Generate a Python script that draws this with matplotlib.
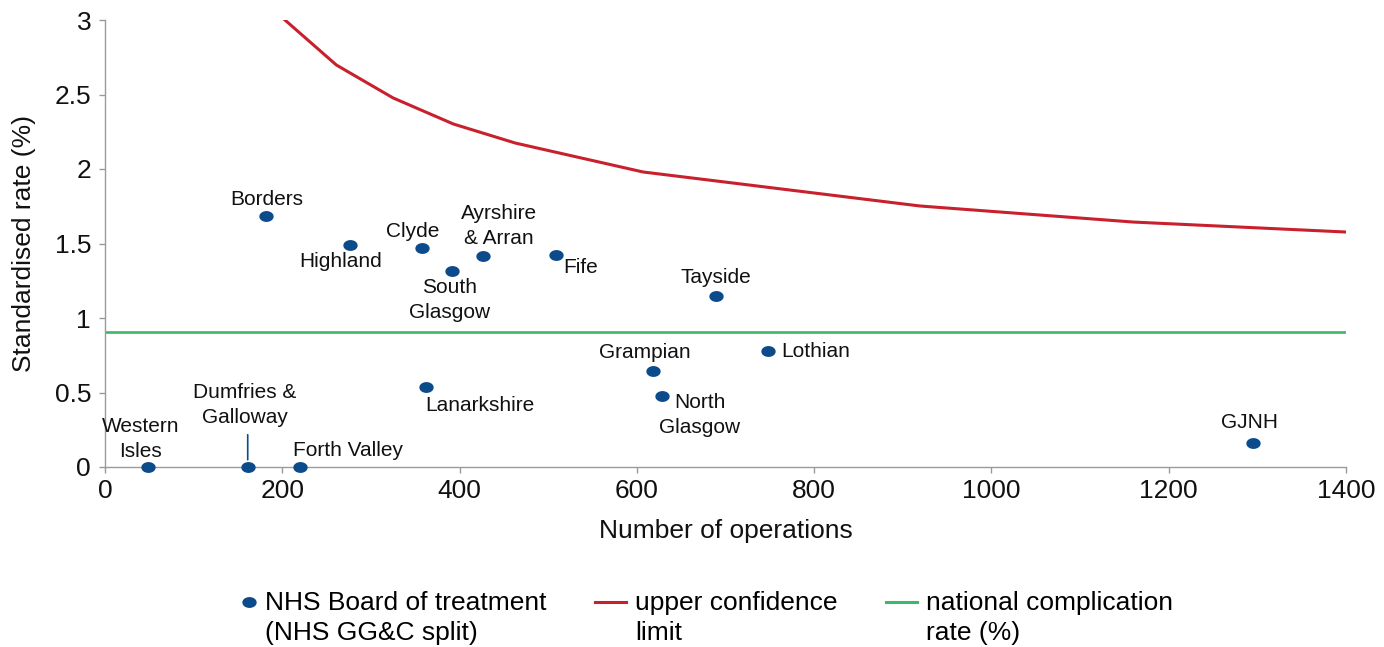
import numpy as np
import matplotlib
matplotlib.use("Agg")
import matplotlib.pyplot as plt
from matplotlib.path import Path
from matplotlib.lines import Line2D
from matplotlib.legend_handler import HandlerLine2D

plt.rcParams['font.family'] = ['Liberation Sans', 'DejaVu Sans']

# health boards: number of operations and standardised rate (%)
boards = ['Western Isles', 'Dumfries &\nGalloway', 'Forth Valley', 'Borders', 'Highland',
          'Clyde', 'South\nGlasgow', 'Ayrshire\n& Arran', 'Fife', 'Tayside',
          'Lanarkshire', 'Grampian', 'North\nGlasgow', 'Lothian', 'GJNH']
board_ops = [49, 161, 220, 182, 276, 358, 391, 426, 509, 689, 362, 618, 628, 748, 1295]
board_rate = [0, 0, 0, 1.685, 1.49, 1.47, 1.315, 1.416, 1.423, 1.148, 0.537, 0.644, 0.477, 0.778, 0.161]

# upper confidence limit curve
ucl_ops = [203, 261, 325, 393, 463, 607, 919, 1160, 1400]
ucl_rate = [3.0, 2.698, 2.477, 2.302, 2.174, 1.98, 1.752, 1.644, 1.577]

national_rate = 0.906

blue = '#0b4a8b'
red = '#c8202c'
green = '#3cb86a'
grey = '#9a9a9a'

# label offsets in pixels (text centre relative to the point, + is up)
label_off = {
    'Western Isles': (-8, 28), 'Dumfries &\nGalloway': (-3, 62), 'Forth Valley': (48, 16),
    'Borders': (0, 16), 'Highland': (-9, -17), 'Clyde': (-10, 16),
    'South\nGlasgow': (-2, -29), 'Ayrshire\n& Arran': (16, 30), 'Fife': (24, -13),
    'Tayside': (0, 18), 'Lanarkshire': (54, -19), 'Grampian': (-8, 19),
    'North\nGlasgow': (38, -19), 'Lothian': (48, 0), 'GJNH': (-3, 21),
}
label_text = {'Western Isles': 'Western\nIsles'}

fig = plt.figure(figsize=(13.84, 6.47), dpi=100)
ax = fig.add_axes([105 / 1384, 1 - 467 / 647, (1346 - 105) / 1384, (467 - 20) / 647])

# elliptical dot (the source image is slightly wide)
t = np.linspace(0, 2 * np.pi, 60)
ell = Path(np.column_stack([np.cos(t), 0.73 * np.sin(t)]), closed=True)

ax.axhline(national_rate, color=green, lw=1.9, zorder=2)
ax.plot(ucl_ops, ucl_rate, color=red, lw=2.2, zorder=2)
ax.plot(board_ops, board_rate, ls='none', marker=ell, ms=9.3, color=blue,
        zorder=4, clip_on=False)

for name, x, y in zip(boards, board_ops, board_rate):
    dx, dy = label_off[name]
    ax.annotate(label_text.get(name, name), (x, y), xytext=(dx, dy), textcoords='offset pixels',
                ha='center', va='center', fontsize=15, linespacing=1.4, color='#111111')

# leader line for Dumfries & Galloway
ax.annotate('', (161, 0.03), xytext=(161, 0.235),
            arrowprops=dict(arrowstyle='-', color=blue, lw=1.2))

ax.set_xlim(0, 1400)
ax.set_ylim(0, 3)
ax.set_xticks([0, 200, 400, 600, 800, 1000, 1200, 1400])
ax.set_yticks([0, 0.5, 1, 1.5, 2, 2.5, 3])
ax.set_yticklabels(['0', '0.5', '1', '1.5', '2', '2.5', '3'])
for s in ['top', 'right']:
    ax.spines[s].set_visible(False)
for s in ['left', 'bottom']:
    ax.spines[s].set_color(grey)
    ax.spines[s].set_linewidth(1.0)
ax.tick_params(colors=grey, labelcolor='#111111', labelsize=19, length=4, width=1)
ax.tick_params(axis='y', pad=6)
ax.tick_params(axis='x', pad=5)
ax.set_xlabel('Number of operations', fontsize=19, color='#111111', labelpad=11)
ax.set_ylabel('Standardised rate (%)', fontsize=19, color='#111111', labelpad=13)


class TopLine(HandlerLine2D):
    # put the legend key level with the first line of a two-line label
    def __init__(self, xshift=0, **kw):
        super().__init__(**kw)
        self.xshift = xshift

    def create_artists(self, legend, orig_handle, xdescent, ydescent, width, height, fontsize, trans):
        arts = super().create_artists(legend, orig_handle, xdescent, ydescent,
                                      width, height, fontsize, trans)
        for a in arts:
            a.set_ydata(np.asarray(a.get_ydata()) + 0.62 * fontsize)
            a.set_xdata(np.asarray(a.get_xdata()) + self.xshift * fontsize)
        return arts


handles = [
    Line2D([], [], ls='none', marker=ell, ms=9.3, color=blue),
    Line2D([], [], color=red, lw=2.2),
    Line2D([], [], color=green, lw=2.2),
]
labels = ['NHS Board of treatment\n(NHS GG&C split)', 'upper confidence\nlimit',
          'national complication\nrate (%)']
hmap = {handles[0]: TopLine(xshift=0.33), handles[1]: TopLine(), handles[2]: TopLine()}
leg = fig.legend(handles, labels, loc='center', bbox_to_anchor=(699 / 1384, 1 - 618 / 647),
                 ncol=3, frameon=False, fontsize=19, handlelength=1.15, handletextpad=0.35,
                 columnspacing=1.86, handler_map=hmap)
for txt in leg.get_texts():
    txt.set_linespacing(1.35)

fig.savefig('out.png', dpi=100)
